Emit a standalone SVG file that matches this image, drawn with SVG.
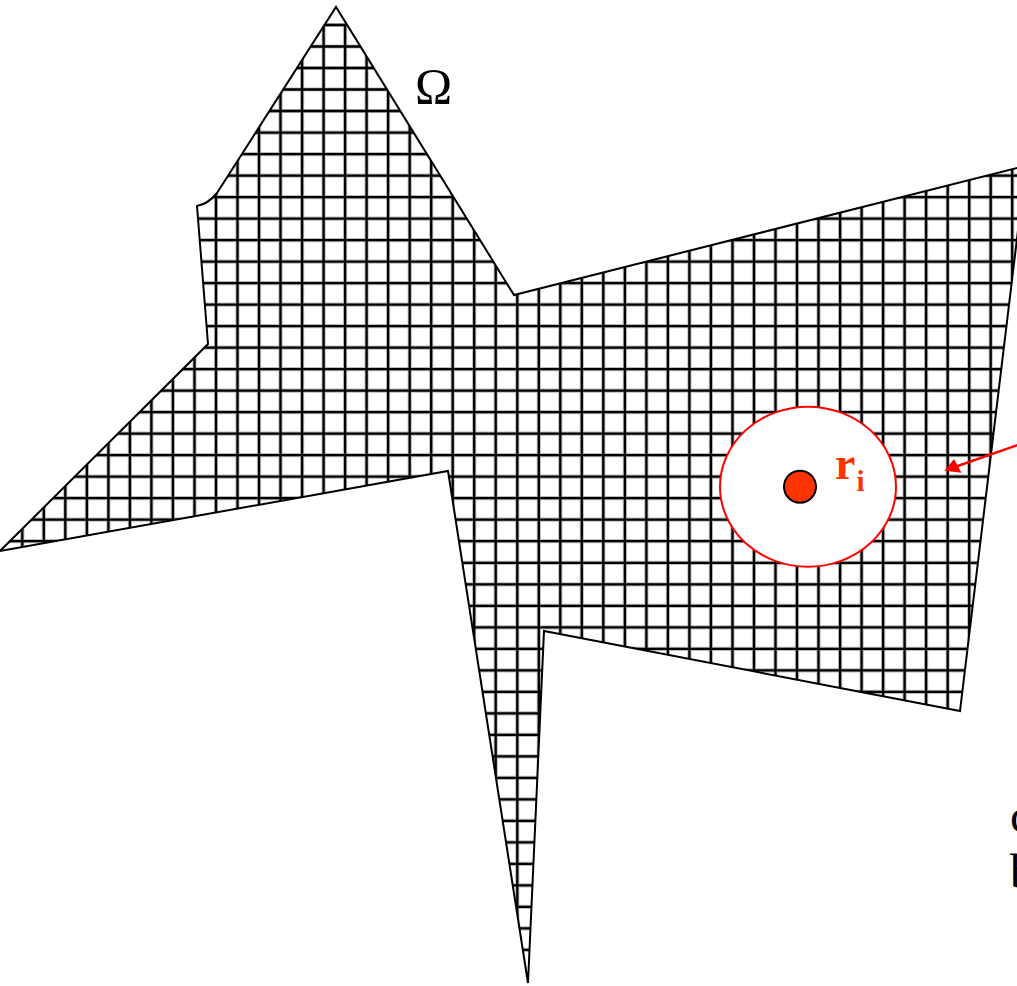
<svg xmlns="http://www.w3.org/2000/svg" width="1017" height="986" viewBox="0 0 1017 986">
<style>
.grid{fill:none;stroke:#000;stroke-width:2.3}
.halo{fill:none;stroke:#bbb;stroke-width:4.2}
.outline{fill:none;stroke:#000;stroke-width:2;stroke-linejoin:miter}
.serif{font-family:"Liberation Serif","Times New Roman",serif;fill:#000}
.ri{font-family:"Liberation Serif","Times New Roman",serif;font-weight:bold;fill:#ff3300}
</style>
<defs>
<clipPath id="domain"><path d="M336 7L514 295L1019 167.5V222L960 711L544 631L528 983L448 471L0 551L208 344L197 206Q208 204 217 193Z"/></clipPath>
<path id="v" d="M22.3 25V950M43.8 25V950M65.3 25V950M86.9 25V950M108.4 25V950M129.9 25V950M151.4 25V950M172.9 25V950M194.5 25V950M216 25V950M237.5 25V950M259 25V950M280.5 25V950M302.1 25V950M323.6 25V950M345.1 25V950M366.6 25V950M388.1 25V950M409.7 25V950M431.2 25V950M452.7 25V950M474.2 25V950M495.7 25V950M517.3 25V950M538.8 25V950M560.3 25V950M581.8 25V950M603.3 25V950M624.9 25V950M646.4 25V950M667.9 25V950M689.4 25V950M710.9 25V950M732.5 25V950M754 25V950M775.5 25V950M797 25V950M818.5 25V950M840.1 25V950M861.6 25V950M883.1 25V950M904.6 25V950M926.1 25V950M947.7 25V950M969.2 25V950M990.7 25V950M1012.2 25V950"/>
<path id="h" d="M0 25H1020M0 46.5H1020M0 68H1020M0 89.5H1020M0 111H1020M0 132.6H1020M0 154.1H1020M0 175.6H1020M0 197.1H1020M0 218.6H1020M0 240.1H1020M0 261.6H1020M0 283.1H1020M0 304.6H1020M0 326.1H1020M0 347.7H1020M0 369.2H1020M0 390.7H1020M0 412.2H1020M0 433.7H1020M0 455.2H1020M0 476.7H1020M0 498.2H1020M0 519.7H1020M0 541.2H1020M0 562.8H1020M0 584.3H1020M0 605.8H1020M0 627.3H1020M0 648.8H1020M0 670.3H1020M0 691.8H1020M0 713.3H1020M0 734.8H1020M0 756.3H1020M0 777.9H1020M0 799.4H1020M0 820.9H1020M0 842.4H1020M0 863.9H1020M0 885.4H1020M0 906.9H1020M0 928.4H1020M0 949.9H1020"/>
</defs>
<rect width="1017" height="986" fill="#fff"/>
<g id="grid" clip-path="url(#domain)">
<use href="#v" class="halo"/>
<use href="#h" class="halo"/>
<use href="#v" class="grid"/>
<use href="#h" class="grid"/>
</g>
<path id="boundary" class="outline" d="M1019 222L960 711L544 631L528 983L448 471L0 551L208 344L197 206Q208 204 217 193L336 7L514 295L1019 167.5"/>
<g id="neighbourhood">
<ellipse cx="808" cy="486.7" rx="88" ry="80" fill="#fff" stroke="#ff0000" stroke-width="2"/>
<circle cx="800" cy="486.7" r="16" fill="#ff3300" stroke="#000" stroke-width="2"/>
</g>
<text class="ri" x="835" y="479" font-size="46">r</text>
<text class="ri" x="856.5" y="491" font-size="29">i</text>
<g id="connectors">
<path d="M1019 444.5L952 468" fill="none" stroke="#ff0000" stroke-width="2.4"/>
<path d="M944.5 470.7L954 459L961.5 472.7Z" fill="#ff0000"/>
</g>
<text class="serif" x="415" y="103" font-size="50">Ω</text>
<text class="serif" x="1010" y="832" font-size="48">c</text>
<text class="serif" x="1010" y="888" font-size="48">b</text>
</svg>
